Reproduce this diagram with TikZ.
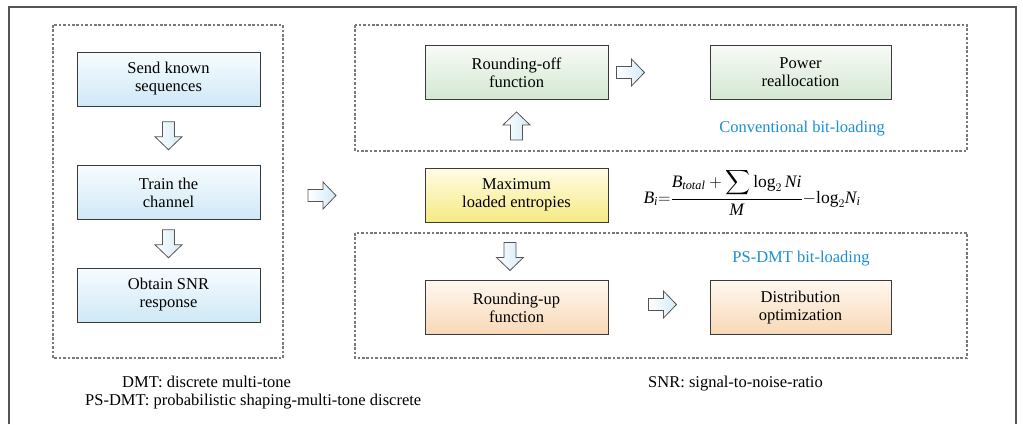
\documentclass[tikz,border=0pt]{standalone}
\usepackage{amsmath}
\usepackage{fontspec}
\setmainfont{Liberation Serif}
\usetikzlibrary{calc}

\definecolor{framegray}{HTML}{555555}
\definecolor{dashgray}{HTML}{7A7A7A}
\definecolor{boxline}{HTML}{3A3A3A}
\definecolor{labelblue}{HTML}{1B8FD2}
\definecolor{bluetop}{HTML}{F7FCFF}
\definecolor{bluebot}{HTML}{CFE8F6}
\definecolor{greentop}{HTML}{F8FBF6}
\definecolor{greenbot}{HTML}{D3E7D2}
\definecolor{yellowtop}{HTML}{FFFCE6}
\definecolor{yellowbot}{HTML}{F6EA82}
\definecolor{orangetop}{HTML}{FFF8F0}
\definecolor{orangebot}{HTML}{F8D8B6}
\definecolor{arrowfill}{HTML}{D2E9F7}

% hollow block arrow pointing along +x, centred on its anchor
\newcommand{\blockarrow}[3]{% name, position, rotation
  \coordinate (#1) at (#2);
  \begin{scope}[shift={(#1)}, rotate=#3]
    \draw[blockarr] (-14,-6) -- (1,-6) -- (1,-13.5) -- (14,0)
      -- (1,13.5) -- (1,6) -- (-14,6) -- cycle;
  \end{scope}}

\begin{document}
\begin{tikzpicture}[x=1pt, y=-1pt,
  font=\rmfamily\fontsize{16.5}{18}\selectfont,
  stepbox/.style={draw=boxline, line width=0.9pt, rectangle,
    minimum width=183pt, minimum height=54pt, align=center,
    inner sep=2pt, font=\rmfamily\fontsize{16.5}{18}\selectfont},
  bluebox/.style={stepbox, top color=bluetop, bottom color=bluebot},
  greenbox/.style={stepbox, top color=greentop, bottom color=greenbot},
  yellowbox/.style={stepbox, top color=yellowtop, bottom color=yellowbot},
  orangebox/.style={stepbox, top color=orangetop, bottom color=orangebot},
  groupbox/.style={draw=dashgray, line width=1.1pt,
    dash pattern=on 2.6pt off 1.8pt},
  blockarr/.style={draw=framegray, line width=0.8pt, line join=miter,
    left color=white, right color=arrowfill},
  bluelabel/.style={text=labelblue},
  note/.style={anchor=base west, inner sep=0pt}]

\useasboundingbox (0,0) rectangle (1023,424);

% outer frame
\draw[framegray, line width=1.2pt] (9,424) -- (9,7) -- (1016,7) -- (1016,424);

% group frames
\draw[groupbox] (53,25) rectangle (283,358);
\draw[groupbox] (355,25) rectangle (967,151);
\draw[groupbox] (355,233) rectangle (967,358);

% channel estimation steps
\node[bluebox] (send)   at (168.5,79)  {Send known\\sequences};
\node[bluebox] (train)  at (168.5,192.5) {Train the\\channel};
\node[bluebox] (obtain) at (168.5,295) {Obtain SNR\\response};

% conventional bit-loading
\node[greenbox] (roundoff) at (516.5,72.5) {Rounding-off\\function};
\node[greenbox, minimum width=181pt] (power) at (800.5,72.5) {Power\\reallocation};
\node[bluelabel] (conv) at (802,129) {Conventional bit-loading};

% entropy loading
\node[yellowbox] (maxent) at (516.5,195) {Maximum\\loaded entropies};
\node[font=\rmfamily\fontsize{17.5}{20}\selectfont] (formula) at (752,192)
  {$\textit{B}_{\textit{i}}{=}\dfrac{\textit{B}_{\textit{total}}+\displaystyle\sum\text{log}_2\,\textit{Ni}}{\textit{M}}{-}\text{log}_2\textit{N}_{\textit{i}}$};

% PS-DMT bit-loading
\node[orangebox] (roundup) at (516.5,307.5) {Rounding-up\\function};
\node[orangebox, minimum width=181pt] (distopt) at (800.5,307.5) {Distribution\\optimization};
\node[bluelabel] (psdmt) at (801,259) {PS-DMT bit-loading};

% block arrows
\blockarrow{a1}{$(send.south)!0.5!(train.north)$}{-90}
\blockarrow{a2}{$(train.south)!0.5!(obtain.north)$}{-90}
\blockarrow{a3}{322,195.5}{0}
\blockarrow{a4}{$(roundoff.east)+(22,0)$}{0}
\blockarrow{a5}{$(roundoff.south)+(0,26)$}{90}
\blockarrow{a6}{$(maxent.south)+(-6.5,34)$}{-90}
\blockarrow{a7}{$(roundup.east)+(54,-3)$}{0}

% abbreviations
\node[note] (dmt)  at (122,387) {DMT: discrete multi-tone};
\node[note] (ps)   at (85,405)  {PS-DMT: probabilistic shaping-multi-tone discrete};
\node[note] (snr)  at (648,387) {SNR: signal-to-noise-ratio};

\end{tikzpicture}
\end{document}
